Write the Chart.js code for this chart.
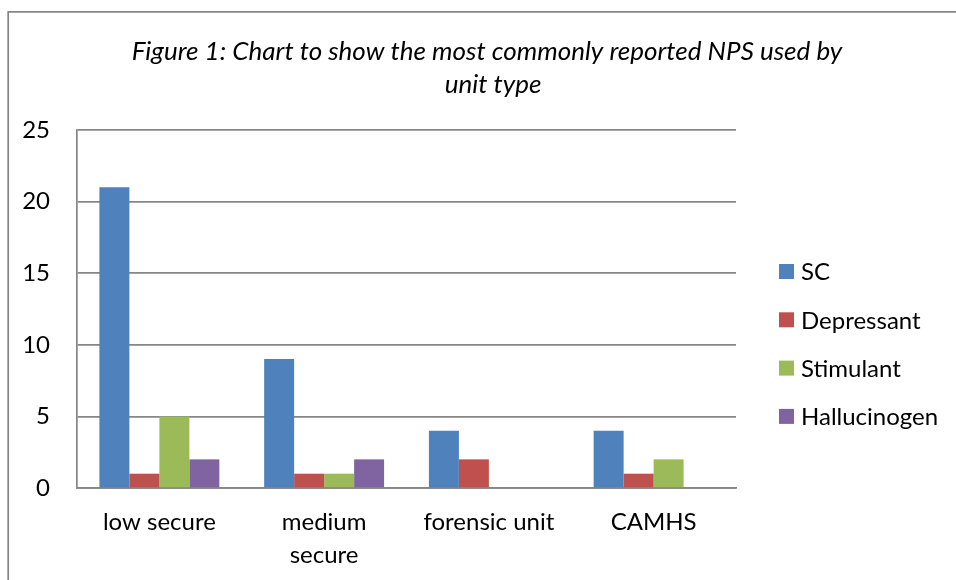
<!DOCTYPE html>
<html><head><meta charset="utf-8">
<script src="https://cdn.jsdelivr.net/npm/chart.js@4/dist/chart.umd.min.js"></script>
<style>html,body{margin:0;padding:0;background:#fff;}#wrap{position:relative;width:956px;height:580px;}</style>
</head><body><div id="wrap"><canvas id="c" width="956" height="580"></canvas></div>
<script>
const categories = ['low secure', ['medium', 'secure'], 'forensic unit', 'CAMHS'];
const seriesNames = ['SC', 'Depressant', 'Stimulant', 'Hallucinogen'];
const scValues = [21, 9, 4, 4];
const depressantValues = [1, 1, 2, 1];
const stimulantValues = [5, 1, 0, 2];
const hallucinogenValues = [2, 2, 0, 0];
const yTicks = [0, 5, 10, 15, 20, 25];
const titleLines = ['Figure 1: Chart to show the most commonly reported NPS used by', 'unit type'];

const colors = ['#4F81BD', '#C0504D', '#9BBB59', '#8064A2'];
const FONT = 'Lato';
const AX = 24;

const decorPlugin = {
  id: 'decor',
  afterDraw(chart) {
    const ctx = chart.ctx;
    ctx.save();
    // outer frame
    ctx.strokeStyle = '#868686';
    ctx.lineWidth = 1.7;
    ctx.beginPath();
    ctx.moveTo(8.2, 600);
    ctx.lineTo(8.2, 11.8);
    ctx.lineTo(960, 11.8);
    ctx.stroke();
    // title
    ctx.fillStyle = '#000';
    ctx.textAlign = 'center';
    ctx.textBaseline = 'middle';
    ctx.font = 'italic 26px ' + FONT;
    ctx.fillText(titleLines[0], 487, 52);
    ctx.fillText(titleLines[1], 493, 85);
    // legend
    ctx.textAlign = 'left';
    ctx.font = AX + 'px ' + FONT;
    chart.data.datasets.forEach((ds, i) => {
      const cy = 271.5 + i * 48.3;
      ctx.fillStyle = ds.backgroundColor;
      ctx.fillRect(779, cy - 7.5, 15, 15);
      ctx.fillStyle = '#000';
      ctx.fillText(ds.label, 801, cy + 1);
    });
    ctx.restore();
  }
};

new Chart(document.getElementById('c'), {
  type: 'bar',
  data: {
    labels: categories,
    datasets: [scValues, depressantValues, stimulantValues, hallucinogenValues].map((d, i) => ({
      label: seriesNames[i],
      data: d,
      backgroundColor: colors[i],
      borderWidth: 0,
      categoryPercentage: 0.728,
      barPercentage: 1.0
    }))
  },
  options: {
    responsive: false,
    animation: false,
    devicePixelRatio: 1,
    layout: { padding: { left: 0, right: 220, top: 130, bottom: 0 } },
    plugins: {
      title: { display: false },
      legend: { display: false },
      tooltip: { enabled: false }
    },
    scales: {
      x: {
        afterFit(scale) { scale.height = 92; },
        grid: { display: false, drawTicks: false },
        border: { color: '#868686', width: 1.7 },
        ticks: { color: '#000', font: { family: FONT, size: AX, lineHeight: 1.375 }, padding: 18, maxRotation: 0 }
      },
      y: {
        min: 0, max: 25,
        afterFit(scale) { scale.width = 77; },
        afterBuildTicks(scale) { scale.ticks = yTicks.map(v => ({ value: v })); },
        grid: { color: '#868686', lineWidth: 1.7, drawTicks: false },
        border: { color: '#868686', width: 1.7 },
        ticks: { color: '#000', font: { family: FONT, size: AX }, padding: 27 }
      }
    }
  },
  plugins: [decorPlugin]
});
</script></body></html>
